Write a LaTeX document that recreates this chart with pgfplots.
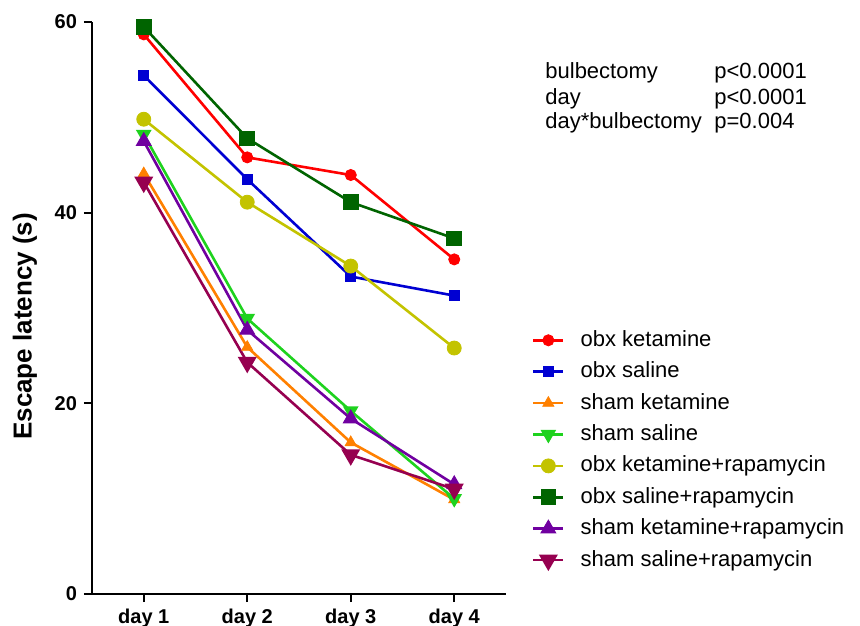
\documentclass[border=0pt]{standalone}
\usepackage{fontspec}
\setmainfont{Liberation Sans}
\usepackage{pgfplots}
\pgfplotsset{compat=1.18}
\definecolor{cRed}{RGB}{255,0,0}
\definecolor{cBlue}{RGB}{0,0,210}
\definecolor{cOrange}{RGB}{255,128,0}
\definecolor{cGreen}{RGB}{30,210,30}
\definecolor{cOlive}{RGB}{195,195,0}
\definecolor{cDkGreen}{RGB}{0,100,0}
\definecolor{cPurple}{RGB}{112,0,160}
\definecolor{cMaroon}{RGB}{150,0,80}
\begin{document}
\begin{tikzpicture}
\path[use as bounding box] (0,0) rectangle (430pt,312.5pt);
\begin{axis}[
  at={(46pt,15.5pt)}, anchor=south west,
  scale only axis, width=207pt, height=286pt,
  xmin=0.5, xmax=4.5, ymin=0, ymax=60,
  axis lines*=left, axis line style={-, line width=1.1pt},
  xtick={1,2,3,4}, xticklabels={day 1,day 2,day 3,day 4},
  ytick={0,20,40,60},
  tick align=outside, major tick length=4pt,
  every tick/.style={black, line width=1.1pt},
  tick label style={font=\fontsize{10}{12}\selectfont\bfseries},
  /pgf/number format/assume math mode=true,
  ylabel={Escape latency (s)},
  ylabel style={font=\fontsize{13}{15}\selectfont\bfseries, at={(axis description cs:-0.162,0.468)}, anchor=center},
  clip=false,
  legend style={draw=none, fill=none, at={(axis description cs:1.062,0.467)}, anchor=north west,
    font=\fontsize{11}{13}\selectfont, inner sep=0pt, row sep=2.7pt, column sep=7pt,
    nodes={inner sep=1pt, text height=8.5pt, text depth=2.5pt}},
  legend cell align=left,
  legend image code/.code={\draw[mark repeat=2,mark phase=2] plot coordinates {(0pt,0pt)(7.5pt,0pt)(15pt,0pt)};},
  every axis plot/.append style={line width=1.3pt, mark options={solid, line width=0.4pt}},
]
\addplot[cRed, mark=*, mark size=2.8pt] coordinates {(1,58.7)(2,45.8)(3,43.95)(4,35.1)};
\addlegendentry{obx ketamine}
\addplot[cBlue, mark=square*, mark size=2.5pt] coordinates {(1,54.4)(2,43.5)(3,33.3)(4,31.3)};
\addlegendentry{obx saline}
\addplot[cOrange, mark=triangle*, mark size=3.2pt] coordinates {(1,44.1)(2,25.9)(3,15.9)(4,9.9)};
\addlegendentry{sham ketamine}
\addplot[cGreen, mark=triangle*, mark size=3.2pt, mark options={rotate=180}] coordinates {(1,48.2)(2,28.9)(3,19.2)(4,10.0)};
\addlegendentry{sham saline}
\addplot[cOlive, mark=*, mark size=3.5pt] coordinates {(1,49.8)(2,41.1)(3,34.4)(4,25.8)};
\addlegendentry{obx ketamine+rapamycin}
\addplot[cDkGreen, mark=square*, mark size=3.7pt] coordinates {(1,59.5)(2,47.8)(3,41.1)(4,37.3)};
\addlegendentry{obx saline+rapamycin}
\addplot[cPurple, mark=triangle*, mark size=4.3pt] coordinates {(1,47.5)(2,27.7)(3,18.4)(4,11.5)};
\addlegendentry{sham ketamine+rapamycin}
\addplot[cMaroon, mark=triangle*, mark size=4.2pt, mark options={rotate=180}] coordinates {(1,43.2)(2,24.3)(3,14.6)(4,11.0)};
\addlegendentry{sham saline+rapamycin}
\end{axis}
\begin{scope}[every node/.style={inner sep=0pt, anchor=base west, font=\fontsize{11}{13}\selectfont}]
\node at (272.5pt,273.2pt) {bulbectomy};
\node at (357pt,273.2pt) {p<0.0001};
\node at (272.5pt,260.4pt) {day};
\node at (357pt,260.4pt) {p<0.0001};
\node at (272.5pt,248pt) {day*bulbectomy};
\node at (357pt,248pt) {p=0.004};
\end{scope}
\end{tikzpicture}
\end{document}
